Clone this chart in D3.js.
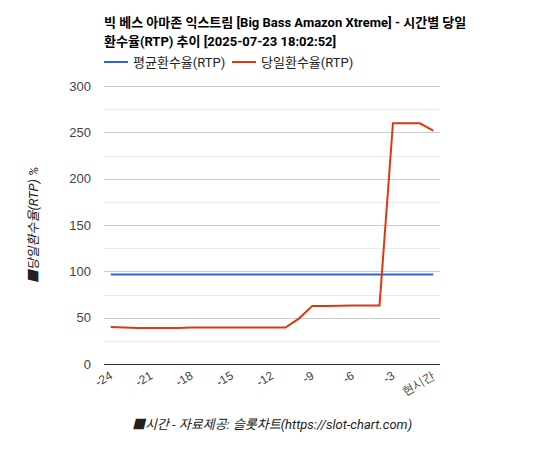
<!DOCTYPE html>
<html lang="ko">
<head>
<meta charset="utf-8">
<title>시간별 당일 환수율(RTP) 추이</title>
<script src="https://d3js.org/d3.v7.min.js"></script>
<style>
  body { margin: 0; background: #fff; }
  svg { font-family: Roboto, "Noto Sans CJK KR", sans-serif; }
  .grid line { stroke: #cccccc; shape-rendering: crispEdges; }
  .grid line.minor { stroke: #ebebeb; }
  .axis path { display: none; }
  .axis line { display: none; }
  .axis text { fill: #444; font-size: 13px; }
  .line { fill: none; stroke-width: 2px; }
</style>
</head>
<body>
<svg width="544" height="450"></svg>
<script>
// 시간 (현재 기준 -24 ~ 0)
var hours = [-24, -23, -22, -21, -20, -19, -18, -17, -16, -15, -14, -13, -12,
             -11, -10, -9, -8, -7, -6, -5, -4, -3, -2, -1, 0];
var avgRtp = [96.7, 96.7, 96.7, 96.7, 96.7, 96.7, 96.7, 96.7, 96.7, 96.7, 96.7, 96.7, 96.7,
              96.7, 96.7, 96.7, 96.7, 96.7, 96.7, 96.7, 96.7, 96.7, 96.7, 96.7, 96.7];
var todayRtp = [39.8, 39.4, 38.9, 38.9, 38.9, 38.9, 39.3, 39.4, 39.4, 39.4, 39.4, 39.4, 39.4,
                39.4, 49.0, 62.7, 62.7, 62.8, 63.2, 63.2, 63.2, 259.8, 259.8, 259.8, 251.8];
var tickHours = [-24, -21, -18, -15, -12, -9, -6, -3, 0];
var yTicks = [0, 50, 100, 150, 200, 250, 300];
var series = [
  {name: "평균환수율(RTP)", color: "#3366cc", values: avgRtp},
  {name: "당일환수율(RTP)", color: "#dc3912", values: todayRtp}
];

var svg = d3.select("svg"),
    margin = {top: 86, left: 104, right: 104, bottom: 86},
    width = 544 - margin.left - margin.right,
    height = 450 - margin.top - margin.bottom,
    g = svg.append("g").attr("transform", "translate(" + margin.left + "," + margin.top + ")");

var x = d3.scalePoint().domain(hours).range([0, width]).padding(0.5),
    y = d3.scaleLinear().domain([0, 300]).range([height, 0]);

function label(h) { return h === 0 ? "현시간" : String(h); }

// 보조 격자 + 주 격자
g.append("g").attr("class", "grid")
  .selectAll("line")
  .data(d3.range(0, 301, 25))
  .enter().append("line")
    .attr("class", function(d) { return d % 50 ? "minor" : "major"; })
    .attr("x1", 0).attr("x2", width)
    .attr("y1", function(d) { return Math.round(y(d)) + 0.5; })
    .attr("y2", function(d) { return Math.round(y(d)) + 0.5; });

g.append("g")
    .attr("class", "axis axis--y")
    .call(d3.axisLeft(y).tickValues(yTicks).tickSize(0).tickPadding(13));

var xAxis = g.append("g")
    .attr("class", "axis axis--x")
    .attr("transform", "translate(0," + height + ")")
    .call(d3.axisBottom(x).tickValues(tickHours).tickFormat(label).tickSize(0));

xAxis.selectAll("text")
    .attr("dy", null)
    .attr("y", 0)
    .style("font-size", "12px")
    .attr("text-anchor", "end")
    .attr("transform", "translate(2,14) rotate(-30)");

var line = d3.line()
    .x(function(d, i) { return x(hours[i]); })
    .y(function(d) { return y(d); });

g.selectAll(".line")
  .data(series)
  .enter().append("path")
    .attr("class", "line")
    .attr("d", function(d) { return line(d.values); })
    .style("stroke", function(d) { return d.color; });

// 0 기준선
g.append("line")
    .attr("x1", 0).attr("x2", width)
    .attr("y1", Math.round(y(0)) + 0.5).attr("y2", Math.round(y(0)) + 0.5)
    .style("stroke", "#333").style("shape-rendering", "crispEdges");

// 제목
var title = svg.append("text")
    .attr("x", margin.left)
    .attr("y", 27)
    .style("font-size", "13px")
    .style("font-weight", "bold")
    .style("fill", "#000");
title.append("tspan").attr("x", margin.left).text("빅 베스 아마존 익스트림 [Big Bass Amazon Xtreme] - 시간별 당일");
title.append("tspan").attr("x", margin.left).attr("dy", 19).text("환수율(RTP) 추이 [2025-07-23 18:02:52]");

// 범례
var legend = svg.selectAll(".legend")
  .data(series)
  .enter().append("g")
    .attr("class", "legend")
    .attr("transform", function(d, i) { return "translate(" + (margin.left + i * 128) + ",62)"; });

legend.append("line")
    .attr("x1", 0).attr("x2", 24)
    .attr("y1", 0).attr("y2", 0)
    .style("stroke", function(d) { return d.color; })
    .style("stroke-width", 2);

legend.append("text")
    .attr("x", 29)
    .attr("dy", "0.35em")
    .style("font-size", "13px")
    .style("fill", "#222")
    .text(function(d) { return d.name; });

// 축 제목
svg.append("text")
    .attr("transform", "translate(38," + (margin.top + height / 2) + ") rotate(-90)")
    .attr("text-anchor", "middle")
    .style("font-size", "13px")
    .style("font-style", "italic")
    .style("fill", "#222")
    .text("■당일환수율(RTP) %");

svg.append("text")
    .attr("x", margin.left + width / 2)
    .attr("y", 429)
    .attr("text-anchor", "middle")
    .style("font-size", "13px")
    .style("font-style", "italic")
    .style("fill", "#222")
    .text("■시간 - 자료제공: 슬롯차트(https://slot-chart.com)");
</script>
</body>
</html>
